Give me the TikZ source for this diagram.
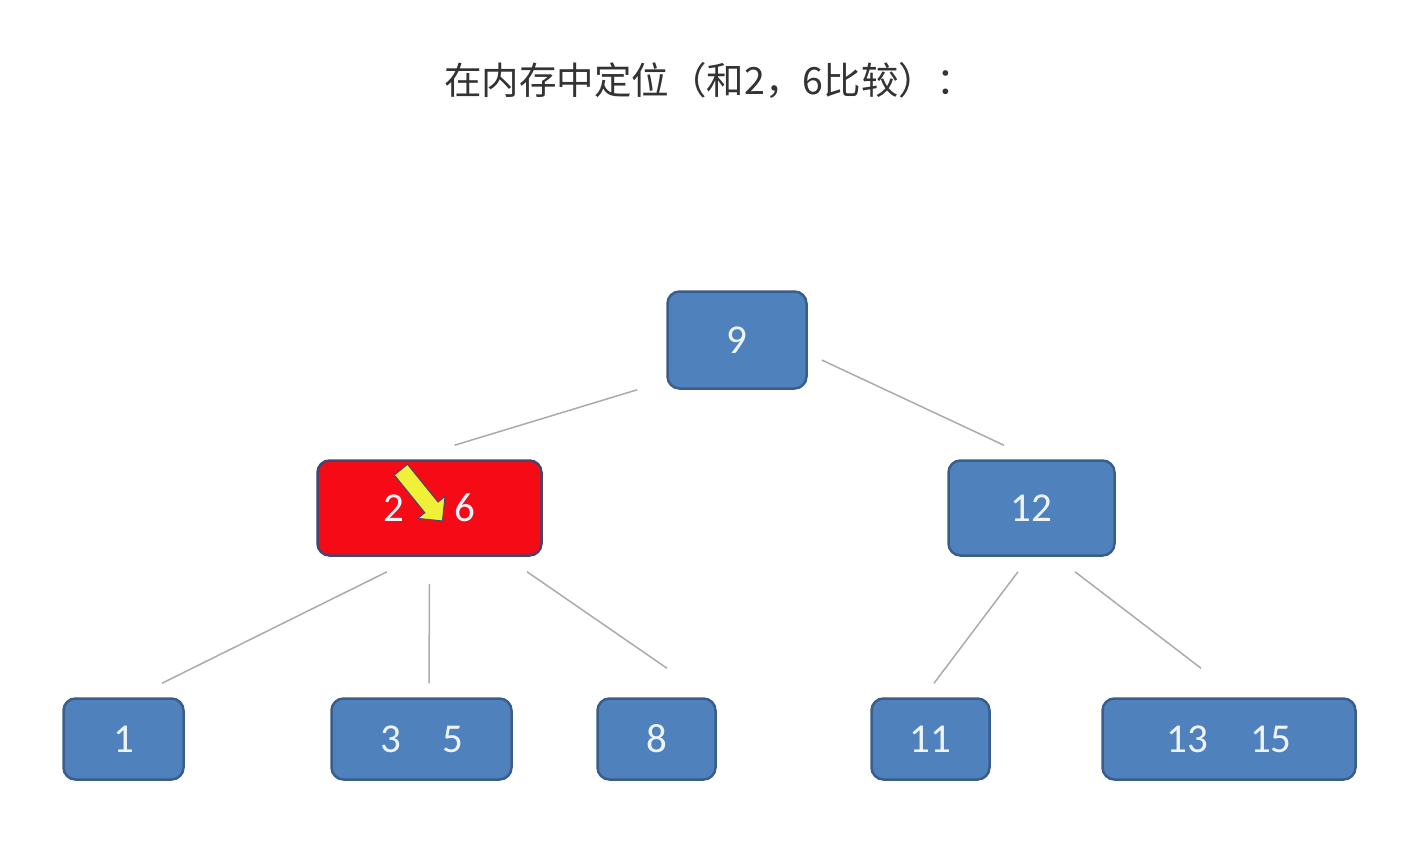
\documentclass[tikz,border=0pt]{standalone}
\usepackage{fontspec}
\setmainfont{Carlito}
\newfontfamily\cjkfont{Noto Sans CJK SC}
\usetikzlibrary{shapes.arrows}
\definecolor{boxblue}{HTML}{4F81BD}
\definecolor{boxline}{HTML}{3A5E8C}
\definecolor{hotred}{HTML}{F50A16}
\definecolor{hotline}{HTML}{47456F}
\definecolor{digitwhite}{HTML}{EEF3FA}
\definecolor{edgegray}{HTML}{ABABAB}
\definecolor{pointer}{HTML}{F0F038}
\definecolor{titlegray}{HTML}{333333}

\begin{document}
\begin{tikzpicture}[x=1pt, y=-1pt,
    keybox/.style = {draw=boxline, fill=boxblue, line width=2.5pt, rounded corners=12pt,
                     text=digitwhite, font=\fontsize{41}{41}\selectfont, inner sep=0pt},
    hotbox/.style = {keybox, draw=hotline, fill=hotred},
    edge/.style = {draw=edgegray, line width=1.5pt}]
\useasboundingbox[fill=white] (0,0) rectangle (1406,846);
\node[text=titlegray, font=\cjkfont\fontsize{37.5}{37.5}\selectfont] (title) at (709,80) {在内存中定位（和2，6比较）：};

% upper levels
\node[keybox, minimum width=139pt, minimum height=97pt] (root) at (737,340) {9};
\node[hotbox, minimum width=224pt, minimum height=95pt] (n26) at (429.5,508) {2\hspace{51pt}6};
\node[keybox, minimum width=166pt, minimum height=95pt] (n12) at (1031.5,508) {12};

% leaves
\foreach \name/\x/\w/\txt in {n1/123.5/120/{1}, n35/421.5/180/{3\hspace{41pt}5}, n8/656.5/118/{8},
                              n11/930.5/118/{11}, n1315/1229/253/{13\hspace{42pt}15}}
    \node[keybox, minimum width=\w pt, minimum height=81pt] (\name) at (\x,739) {\txt};

% pointer
\node[single arrow, draw=hotline, fill=pointer, line width=1pt, inner sep=8pt,
      minimum height=66pt, single arrow head extend=9pt, rotate=-51] (ptr) at (419,492) {};

% connectors
\draw[edge] ([xshift=-29pt]root.south west) -- ([xshift=25pt,yshift=14pt]n26.north);
\draw[edge] ([xshift=14pt,yshift=-20pt]root.east) -- ([xshift=-27.5pt,yshift=14pt]n12.north);
\draw[edge] ([xshift=-42.5pt,yshift=-15pt]n26.south) -- ([xshift=38.5pt,yshift=14pt]n1.north);
\draw[edge] ([yshift=-27pt]n26.south) -- ([xshift=7.5pt,yshift=14pt]n35.north);
\draw[edge] ([xshift=97.5pt,yshift=-15pt]n26.south) -- ([xshift=10.5pt,yshift=29pt]n8.north);
\draw[edge] ([xshift=-13.5pt,yshift=-15pt]n12.south) -- ([xshift=3.5pt,yshift=14pt]n11.north);
\draw[edge] ([xshift=43.5pt,yshift=-15pt]n12.south) -- ([xshift=-28pt,yshift=29pt]n1315.north);
\end{tikzpicture}
\end{document}
